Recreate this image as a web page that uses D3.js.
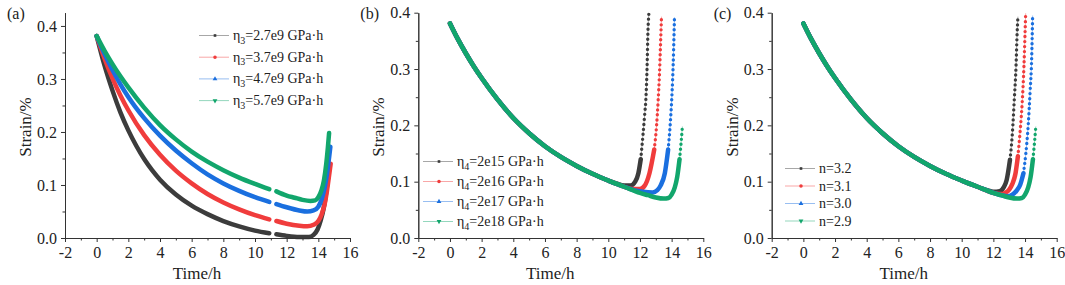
<!DOCTYPE html>
<html>
<head>
<meta charset="utf-8">
<script src="https://cdn.jsdelivr.net/npm/d3@7"></script>
<style>
  body { margin: 0; background: #fff; }
  .axis path, .axis line { stroke: #333; stroke-width: 1; }
</style>
</head>
<body>
<svg id="chart" width="1065" height="285" font-family="Liberation Serif, Times New Roman, serif"></svg>
<script>
const FONT = "'Liberation Serif', 'Times New Roman', serif";
// colours used by the four curves in every panel
const colors = ['#3c3c3c', '#f03c3c', '#1a6fdf', '#12a66c'];
const xTicks = [-2, 0, 2, 4, 6, 8, 10, 12, 14, 16];
const yTicks = [0, 0.1, 0.2, 0.3, 0.4];

// (a) strain vs time for different eta3 (null = gap in the exported curve)
const aBlack = [[0,0.381],[0.5,0.325],[1,0.278],[1.5,0.237],[2,0.203],[2.5,0.174],[3,0.149],[3.5,0.128],[4,0.11],[5,0.082],[6,0.061],[7,0.045],[8,0.032],[9,0.022],[10,0.014],[10.9,0.009],[11.1,null],[11.35,0.007],[12,0.004],[12.8,0.002],[13.4,0.002],[13.7,0.006],[13.95,0.016],[14.15,0.033],[14.35,0.058],[14.5,0.087],[14.62,0.115],[14.72,0.14]];
const aRed = [[0,0.381],[0.5,0.338],[1,0.301],[1.5,0.269],[2,0.241],[3,0.194],[4,0.157],[5,0.127],[6,0.103],[7,0.083],[8,0.067],[9,0.054],[10,0.043],[10.9,0.035],[11.1,null],[11.35,0.032],[12,0.027],[12.8,0.023],[13.3,0.022],[13.7,0.025],[14.0,0.032],[14.2,0.044],[14.4,0.064],[14.55,0.09],[14.68,0.118],[14.78,0.14]];
const aBlue = [[0,0.381],[0.5,0.347],[1,0.317],[1.5,0.29],[2,0.266],[3,0.226],[4,0.193],[5,0.165],[6,0.141],[7,0.12],[8,0.103],[9,0.089],[10,0.077],[10.9,0.068],[11.1,null],[11.35,0.064],[12,0.058],[12.8,0.052],[13.3,0.05],[13.7,0.052],[14.0,0.059],[14.2,0.072],[14.4,0.095],[14.55,0.122],[14.68,0.152],[14.76,0.172]];
const aGreen = [[0,0.381],[0.5,0.353],[1,0.328],[1.5,0.305],[2,0.284],[3,0.246],[4,0.213],[5,0.186],[6,0.163],[7,0.144],[8,0.128],[9,0.114],[10,0.102],[10.9,0.092],[11.1,null],[11.35,0.088],[12,0.08],[12.5,0.076],[13,0.072],[13.5,0.07],[13.8,0.071],[14.0,0.077],[14.2,0.09],[14.35,0.108],[14.5,0.14],[14.6,0.17],[14.68,0.198]];

// common creep curve shared by (b) and (c); it is also the green series there
const baseCurve = [[0,0.381],[0.5,0.353],[1,0.328],[1.5,0.305],[2,0.284],[3,0.246],[4,0.213],[5,0.186],[6,0.163],[7,0.144],[8,0.128],[9,0.114],[10,0.102],[11,0.091],[12,0.08],[12.5,0.076],[13,0.072],[13.5,0.07],[13.8,0.071],[14.0,0.077],[14.2,0.09],[14.35,0.108],[14.5,0.14],[14.6,0.17],[14.68,0.198]];

// (b) eta4 tails, where each leaves the common curve
const bBlackTail = [[10.5,0.097],[11,0.093],[11.4,0.093],[11.7,0.1],[11.9,0.115],[12.05,0.14],[12.2,0.186],[12.3,0.22],[12.37,0.245],[12.45,0.304],[12.5,0.363],[12.56,0.398]];
const bRedTail = [[11.2,0.089],[11.6,0.087],[12.0,0.087],[12.3,0.093],[12.6,0.115],[12.9,0.157],[13.05,0.2],[13.15,0.245],[13.23,0.29],[13.3,0.345],[13.36,0.393]];
const bBlueTail = [[11.2,0.089],[11.6,0.085],[12.2,0.082],[12.8,0.081],[13.1,0.085],[13.3,0.093],[13.57,0.115],[13.78,0.157],[13.93,0.21],[14.03,0.26],[14.1,0.31],[14.15,0.36],[14.18,0.392]];

// (c) stress exponent n tails
const cBlackTail = [[11.6,0.085],[12.0,0.082],[12.4,0.083],[12.65,0.09],[12.84,0.103],[13.05,0.139],[13.2,0.186],[13.32,0.245],[13.43,0.304],[13.5,0.363],[13.55,0.393]];
const cRedTail = [[12.0,0.08],[12.5,0.078],[12.74,0.08],[13.0,0.086],[13.2,0.096],[13.4,0.115],[13.55,0.145],[13.68,0.186],[13.83,0.245],[13.93,0.304],[14.0,0.363],[14.04,0.399]];
const cBlueTail = [[12.5,0.076],[12.9,0.074],[13.2,0.077],[13.47,0.084],[13.7,0.095],[13.9,0.115],[14.05,0.15],[14.2,0.2],[14.32,0.26],[14.42,0.32],[14.48,0.395]];

// legend labels: [symbol, subscript, rest]
const legendA = [['η','3','=2.7e9 GPa·h'], ['η','3','=3.7e9 GPa·h'], ['η','3','=4.7e9 GPa·h'], ['η','3','=5.7e9 GPa·h']];
const legendB = [['η','4','=2e15 GPa·h'], ['η','4','=2e16 GPa·h'], ['η','4','=2e17 GPa·h'], ['η','4','=2e18 GPa·h']];
const legendC = [['n=3.2','',''], ['n=3.1','',''], ['n=3.0','',''], ['n=2.9','','']];

const withTail = tail => baseCurve.filter(p => p[0] < tail[0][0]).concat(tail);

const svg = d3.select('#chart');
const symbols = [d3.symbolSquare, d3.symbolCircle, d3.symbolTriangle, d3.symbolTriangle];

const panels = [
  {id: 'a', x0: 65, yMax: 0.425, steep: 14, series: [aBlack, aRed, aBlue, aGreen], legend: legendA,
   leg: {x: 199, y: 35.5, step: 21.7}},
  {id: 'b', x0: 418.3, yMax: 0.4, steep: 8, series: [withTail(bBlackTail), withTail(bRedTail), withTail(bBlueTail), baseCurve], legend: legendB,
   leg: {x: 423, y: 161.5, step: 20}},
  {id: 'c', x0: 771.7, yMax: 0.4, steep: 8, series: [withTail(cBlackTail), withTail(cRedTail), withTail(cBlueTail), baseCurve], legend: legendC,
   leg: {x: 785, y: 168.5, step: 17.5}}
];

panels.forEach(p => {
  const g = svg.append('g');
  const x = d3.scaleLinear().domain([-2, 16]).range([p.x0, p.x0 + 285]);
  const y = d3.scaleLinear().domain([0, p.yMax]).range([238, 12.7]);

  const line = d3.line()
    .defined(d => d[1] != null)
    .x(d => x(d[0]))
    .y(d => y(d[1]))
    .curve(d3.curveMonotoneX);

  p.series.forEach((s, i) => {
    // the dense part looks like a thick line, the steep rise shows separate markers
    let k = s.findIndex((d, j) => j > 0 && d[1] != null && s[j - 1][1] != null &&
      Math.abs(y(d[1]) - y(s[j - 1][1])) / Math.abs(x(d[0]) - x(s[j - 1][0])) > p.steep);
    if (k < 0) k = s.length;
    const dense = s.slice(0, k);
    const sparse = s.slice(Math.max(k - 1, 0));

    g.append('path')
      .attr('d', line(dense))
      .attr('fill', 'none')
      .attr('stroke', colors[i])
      .attr('stroke-width', 4.5)
      .attr('stroke-linecap', 'round')
      .attr('stroke-linejoin', 'round');
    if (sparse.length > 1) {
      g.append('path')
        .attr('d', line(sparse))
        .attr('fill', 'none')
        .attr('stroke', colors[i])
        .attr('stroke-opacity', 0.4)
        .attr('stroke-width', 1);
      g.append('path')
        .attr('d', line(sparse))
        .attr('fill', 'none')
        .attr('stroke', colors[i])
        .attr('stroke-width', 3.4)
        .attr('stroke-linecap', 'round')
        .attr('stroke-dasharray', '0 5');
    }
  });

  // axes with outward major and minor ticks
  g.append('g').attr('class', 'axis')
    .attr('transform', 'translate(0,238)')
    .call(d3.axisBottom(x).tickValues(d3.range(-1, 16, 2)).tickSize(2.5).tickSizeOuter(0).tickFormat(''));
  g.append('g').attr('class', 'axis')
    .attr('transform', 'translate(0,238)')
    .call(d3.axisBottom(x).tickValues(xTicks).tickSize(4).tickSizeOuter(0).tickPadding(5).tickFormat(d => String(d)));
  g.append('g').attr('class', 'axis')
    .attr('transform', `translate(${p.x0},0)`)
    .call(d3.axisLeft(y).tickValues([0.05, 0.15, 0.25, 0.35]).tickSize(2.5).tickSizeOuter(0).tickFormat(''));
  g.append('g').attr('class', 'axis')
    .attr('transform', `translate(${p.x0},0)`)
    .call(d3.axisLeft(y).tickValues(yTicks).tickSize(4).tickSizeOuter(0).tickPadding(4).tickFormat(d3.format('.1f')));
  g.selectAll('.axis').attr('font-family', FONT).attr('font-size', 16);
  g.selectAll('.axis text').attr('fill', '#222');

  // titles
  g.append('text')
    .attr('x', p.x0 + 132).attr('y', 279)
    .attr('text-anchor', 'middle').attr('font-size', 17)
    .text('Time/h');
  g.append('text')
    .attr('transform', `translate(${p.x0 - 34},127) rotate(-90)`)
    .attr('text-anchor', 'middle').attr('font-size', 17)
    .text('Strain/%');
  g.append('text')
    .attr('x', p.x0 - 58).attr('y', 19)
    .attr('font-size', 16)
    .text(`(${p.id})`);

  // legend
  p.legend.forEach((lab, i) => {
    const ly = p.leg.y + i * p.leg.step;
    g.append('line')
      .attr('x1', p.leg.x).attr('x2', p.leg.x + 30)
      .attr('y1', ly).attr('y2', ly)
      .attr('stroke', colors[i]).attr('stroke-opacity', 0.45).attr('stroke-width', 1);
    g.append('path')
      .attr('d', d3.symbol().type(symbols[i]).size(i === 0 ? 7 : 10)())
      .attr('transform', `translate(${p.leg.x + 16},${ly})` + (i === 3 ? ' rotate(180)' : ''))
      .attr('fill', colors[i]);
    const t = g.append('text')
      .attr('x', p.leg.x + 34).attr('y', ly + 4.5)
      .attr('font-size', 14);
    t.append('tspan').text(lab[0]);
    if (lab[1]) {
      t.append('tspan').attr('dy', 3.5).attr('font-size', 10).text(lab[1]);
      t.append('tspan').attr('dy', -3.5).text(lab[2]);
    }
  });

  g.selectAll('text').attr('font-family', FONT).style('fill', '#222');
});
</script>
</body>
</html>
